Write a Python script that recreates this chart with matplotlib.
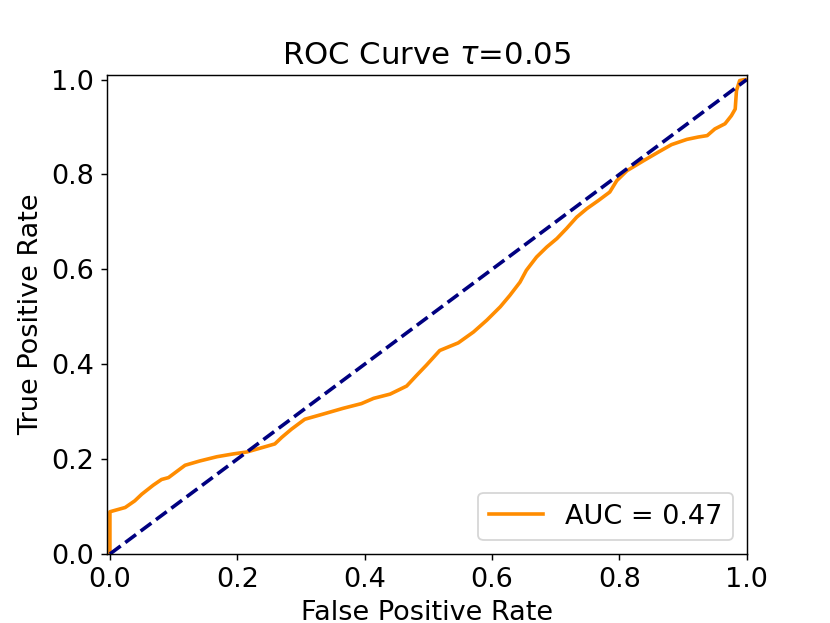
import matplotlib
matplotlib.use('Agg')
from matplotlib import pyplot as plt

# ROC curve points
fpr = [0.0, 0.0, 0.024, 0.039, 0.050, 0.068, 0.081, 0.092, 0.118, 0.141,
       0.168, 0.194, 0.215, 0.241, 0.259, 0.270, 0.285, 0.306, 0.335, 0.366,
       0.395, 0.414, 0.440, 0.466, 0.482, 0.497, 0.518, 0.547, 0.571, 0.592,
       0.613, 0.628, 0.644, 0.654, 0.670, 0.686, 0.702, 0.717, 0.733, 0.749,
       0.767, 0.785, 0.796, 0.812, 0.838, 0.861, 0.882, 0.906, 0.924, 0.938,
       0.950, 0.966, 0.976, 0.982, 0.984, 0.989, 0.996, 1.0]
tpr = [0.0, 0.089, 0.098, 0.112, 0.126, 0.145, 0.157, 0.161, 0.187, 0.196,
       0.205, 0.211, 0.215, 0.225, 0.232, 0.246, 0.263, 0.284, 0.295, 0.307,
       0.317, 0.328, 0.337, 0.354, 0.377, 0.398, 0.429, 0.445, 0.468, 0.493,
       0.521, 0.545, 0.573, 0.598, 0.626, 0.647, 0.665, 0.686, 0.710, 0.728,
       0.745, 0.763, 0.787, 0.808, 0.829, 0.847, 0.863, 0.874, 0.879, 0.882,
       0.896, 0.907, 0.924, 0.938, 0.977, 0.998, 1.0, 1.0]
auc_value = 0.47
tau = 0.05

fig = plt.figure(figsize=(8.3 / 1.3, 6.23 / 1.3), dpi=130)
ax = fig.add_axes([0.1286, 0.1108, 0.771, 0.769])

ax.plot(fpr, tpr, color='darkorange', lw=2, label=f'AUC = {auc_value:.2f}')
ax.plot([0, 1], [0, 1], color='navy', lw=2, linestyle='--')

ax.set_xlim(-0.005, 1.0)
ax.set_ylim(0.0, 1.01)
ax.tick_params(labelsize=15)
ax.set_xlabel('False Positive Rate', fontsize=15)
ax.set_ylabel('True Positive Rate', fontsize=15)
ax.set_title(f'ROC Curve $\\tau$={tau}', fontsize=17)
ax.legend(loc='lower right', fontsize=15)

fig.savefig('out.png', dpi=130)
